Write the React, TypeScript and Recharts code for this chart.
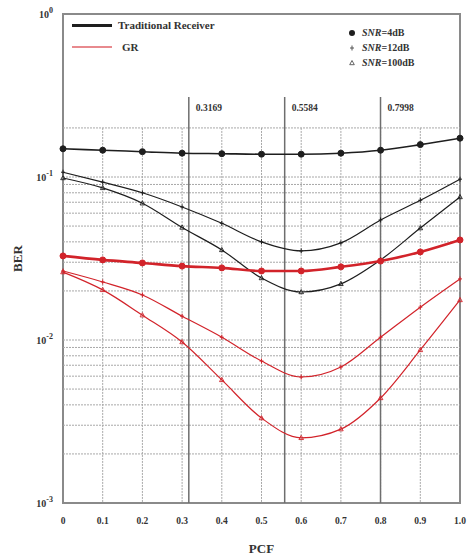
import { ComposedChart, Line, XAxis, YAxis, ReferenceLine, ReferenceArea } from 'recharts'

const pcf = [0, 0.1, 0.2, 0.3, 0.4, 0.5, 0.6, 0.7, 0.8, 0.9, 1.0]
const trad4 = [0.149, 0.146, 0.143, 0.14, 0.139, 0.138, 0.138, 0.14, 0.146, 0.158, 0.173]
const trad12 = [0.107, 0.093, 0.08, 0.0655, 0.052, 0.04, 0.0352, 0.0394, 0.0545, 0.072, 0.097]
const trad100 = [0.0986, 0.0857, 0.069, 0.049, 0.0357, 0.024, 0.0197, 0.0221, 0.031, 0.0486, 0.0754]
const gr4 = [0.0328, 0.031, 0.0297, 0.0284, 0.0277, 0.0265, 0.0265, 0.0281, 0.0305, 0.0347, 0.0411]
const gr12 = [0.0265, 0.0227, 0.0189, 0.014, 0.0104, 0.00743, 0.00593, 0.00683, 0.0104, 0.0159, 0.0237]
const gr100 = [0.0261, 0.0203, 0.0142, 0.00972, 0.00569, 0.00332, 0.00251, 0.00284, 0.00441, 0.00869, 0.0176]

const xTicks = [0, 0.1, 0.2, 0.3, 0.4, 0.5, 0.6, 0.7, 0.8, 0.9, 1.0]
const yTicks = [0.001, 0.01, 0.1, 1]
const yExp = ['-3', '-2', '-1', '0']
const hGrid = [0.002, 0.003, 0.004, 0.005, 0.006, 0.007, 0.008, 0.009, 0.01, 0.02, 0.03, 0.04, 0.05, 0.06, 0.07, 0.08, 0.09, 0.1, 0.2]
const vGrid = [0.1, 0.2, 0.3, 0.4, 0.5, 0.6, 0.7, 0.8, 0.9]
const marks = [0.3169, 0.5584, 0.7998]

const data = pcf.map((p, i) => ({
  pcf: p,
  trad4: trad4[i],
  trad12: trad12[i],
  trad100: trad100[i],
  gr4: gr4[i],
  gr12: gr12[i],
  gr100: gr100[i],
}))

const FONT = '"Liberation Serif", "DejaVu Serif", serif'
const BLACK = '#1e1e1e'
const RED = '#d2232a'

function circleDot(color: string) {
  return (p: any) => <circle key={p.key ?? p.index} cx={p.cx} cy={p.cy} r={3} fill={color} stroke={color} />
}
function plusDot(color: string) {
  return (p: any) => (
    <path key={p.key ?? p.index} d={`M${p.cx - 2},${p.cy}h4M${p.cx},${p.cy - 2.5}v5`} stroke={color} strokeWidth={1} fill="none" />
  )
}
function triDot(color: string) {
  return (p: any) => (
    <path key={p.key ?? p.index} d={`M${p.cx},${p.cy - 2.5}L${p.cx + 2.3},${p.cy + 1.7}L${p.cx - 2.3},${p.cy + 1.7}Z`} stroke={color} strokeWidth={0.9} fill="none" />
  )
}

const YTick = (props: any) => {
  const i = yTicks.indexOf(props.payload.value)
  return (
    <text x={props.x - 2} y={props.y + 4} textAnchor="end" fontFamily={FONT} fontWeight="bold" fontSize={10} fill="#333">
      10<tspan dy={-5} fontSize={8}>{yExp[i]}</tspan>
    </text>
  )
}

const BerLabel = (props: any) => {
  const vb = props.viewBox
  const cx = vb.x + 19
  const cy = vb.y + vb.height / 2
  return (
    <text x={cx} y={cy} transform={`rotate(-90, ${cx}, ${cy})`} textAnchor="middle" dominantBaseline="middle" fontFamily={FONT} fontWeight="bold" fontSize={13} fill="#333">
      BER
    </text>
  )
}

const MarkLabel = (text: string) => (props: any) => {
  const vb = props.viewBox
  return (
    <text x={vb.x + 7} y={vb.y + 14} fontFamily={FONT} fontWeight="bold" fontSize={9.5} fill="#333">
      {text}
    </text>
  )
}

const legendText: React.CSSProperties = { position: 'absolute', fontFamily: FONT, fontWeight: 'bold', fontSize: 11, color: '#333', whiteSpace: 'nowrap', lineHeight: '12px' }

export default function App() {
  return (
    <div style={{ position: 'absolute', left: 0, top: 0, width: 469, height: 557, background: '#fff' }}>
      <ComposedChart width={469} height={557} data={data} margin={{ top: 14, right: 9, left: 0, bottom: 0 }}>
        <XAxis
          dataKey="pcf"
          type="number"
          domain={[0, 1]}
          ticks={xTicks}
          tickFormatter={(v: number) => (v === 0 ? '0' : v.toFixed(1))}
          tick={{ fill: '#333', fontSize: 9.5, fontFamily: FONT, fontWeight: 'bold' }}
          axisLine={false}
          tickLine={false}
          tickMargin={8}
          height={54}
          label={{ value: 'PCF', position: 'insideBottom', offset: 4, fill: '#333', fontSize: 13, fontFamily: FONT, fontWeight: 'bold' }}
        />
        <YAxis
          scale="log"
          domain={[0.001, 1]}
          ticks={yTicks}
          allowDataOverflow
          tick={<YTick />}
          axisLine={false}
          tickLine={false}
          width={63}
          label={<BerLabel />}
        />
        {hGrid.map(v => (
          <ReferenceLine key={'h' + v} y={v} stroke="#a8a8a8" strokeDasharray="2 1" strokeWidth={1} />
        ))}
        {vGrid.map(v => (
          <ReferenceLine key={'v' + v} segment={[{ x: v, y: 0.2 }, { x: v, y: 0.001 }]} stroke="#a8a8a8" strokeDasharray="2 1" strokeWidth={1} />
        ))}
        {marks.map(v => (
          <ReferenceLine key={'m' + v} segment={[{ x: v, y: 0.31 }, { x: v, y: 0.001 }]} stroke="#6e6e6e" strokeWidth={1.5} label={MarkLabel(v.toFixed(4))} />
        ))}
        <ReferenceArea x1={0} x2={1} y1={0.001} y2={1} fill="none" stroke="#8a8a8a" strokeWidth={2} />
        <Line type="monotone" dataKey="trad4" stroke={BLACK} strokeWidth={1.6} dot={circleDot(BLACK)} isAnimationActive={false} />
        <Line type="monotone" dataKey="trad12" stroke={BLACK} strokeWidth={1.2} dot={plusDot(BLACK)} isAnimationActive={false} />
        <Line type="monotone" dataKey="trad100" stroke={BLACK} strokeWidth={1.2} dot={triDot(BLACK)} isAnimationActive={false} />
        <Line type="monotone" dataKey="gr4" stroke={RED} strokeWidth={2.6} dot={circleDot(RED)} isAnimationActive={false} />
        <Line type="monotone" dataKey="gr12" stroke={RED} strokeWidth={1.2} dot={plusDot(RED)} isAnimationActive={false} />
        <Line type="monotone" dataKey="gr100" stroke={RED} strokeWidth={1.2} dot={triDot(RED)} isAnimationActive={false} />
      </ComposedChart>

      {/* series legend, top left */}
      <div style={{ position: 'absolute', left: 72, top: 24, width: 40, height: 3, background: BLACK }} />
      <div style={{ ...legendText, left: 118, top: 19 }}>Traditional Receiver</div>
      <div style={{ position: 'absolute', left: 72, top: 46, width: 40, height: 2, background: '#e88a8e' }} />
      <div style={{ ...legendText, left: 122, top: 41 }}>GR</div>

      {/* marker legend, top right */}
      <svg style={{ position: 'absolute', left: 346, top: 26 }} width={14} height={44}>
        <circle cx={6} cy={7} r={3} fill={BLACK} />
        <path d="M4,22h4M6,19.5v5" stroke="#555" strokeWidth={1} />
        <path d="M6,34.5L8.3,38.7L3.7,38.7Z" stroke="#555" strokeWidth={0.9} fill="none" />
      </svg>
      <div style={{ ...legendText, fontSize: 10, left: 362, top: 27 }}><i>SNR</i>=4dB</div>
      <div style={{ ...legendText, fontSize: 10, left: 362, top: 42 }}><i>SNR</i>=12dB</div>
      <div style={{ ...legendText, fontSize: 10, left: 362, top: 57 }}><i>SNR</i>=100dB</div>
    </div>
  )
}
